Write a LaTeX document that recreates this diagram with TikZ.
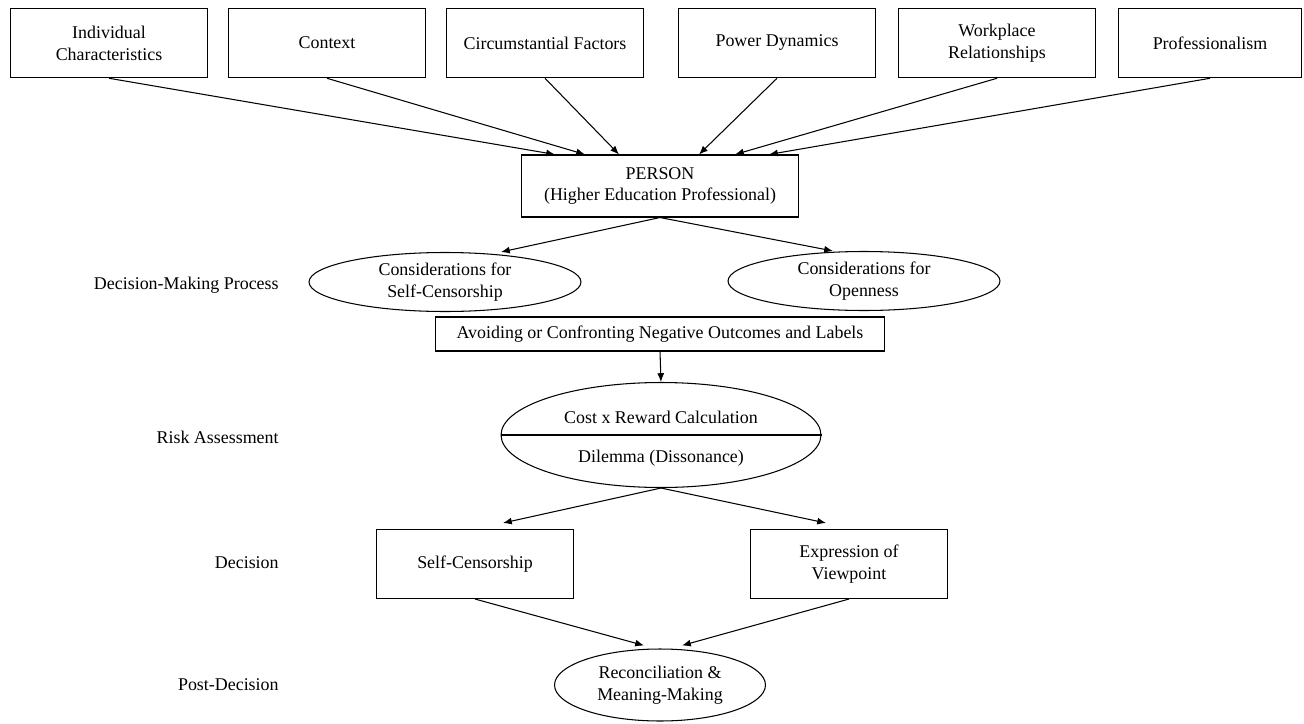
\documentclass[tikz,border=0pt]{standalone}
\usepackage{fontspec}
\setmainfont{Liberation Serif}
\usetikzlibrary{arrows.meta, positioning, calc, shapes.geometric}
\tikzset{
    factor/.style = {draw, rectangle, minimum width=3.94cm, minimum height=1.39cm, align=center},
    block/.style = {draw, rectangle, align=center},
    oval/.style = {draw, ellipse, align=center, inner sep=0pt},
    stage/.style = {anchor=east}
}

\begin{document}
\begin{tikzpicture}[x=0.02cm, y=-0.02cm, >={Latex[length=5pt,width=4pt]},
    font=\fontsize{10.2}{12.5}\selectfont, line width=0.6pt]
    \useasboundingbox (0,0) rectangle (1304,723);
    % Factores
    \node [factor] (indiv) at (109,43) {Individual\\Characteristics};
    \node [factor] (context) at (327,43) {Context};
    \node [factor] (circum) at (545,43) {Circumstantial Factors};
    \node [factor] (power) at (777,43) {Power Dynamics};
    \node [factor] (workplace) at (997,43) {Workplace\\Relationships};
    \node [factor, minimum width=3.66cm] (prof) at (1210,43) {Professionalism};
    % Persona
    \node [block, minimum width=5.54cm, minimum height=1.24cm] (person) at (660,186)
        {PERSON\\(Higher Education Professional)};
    % Proceso
    \node [oval, minimum width=5.44cm, minimum height=1.18cm] (selfcons) at (445,282)
        {Considerations for\\Self-Censorship};
    \node [oval, minimum width=5.44cm, minimum height=1.18cm] (openness) at (864,281)
        {Considerations for\\Openness};
    \node [block, minimum width=8.98cm, minimum height=0.68cm] (avoid) at (660,334)
        {Avoiding or Confronting Negative Outcomes and Labels};
    \node [oval, minimum width=6.4cm, minimum height=2.1cm] (risk) at (661,435) {};
    \draw (risk.west) -- (risk.east);
    \node (cost) at (661,417) {Cost x Reward Calculation};
    \node (dilemma) at (661,458) {Dilemma (Dissonance)};
    \node [block, minimum width=3.94cm, minimum height=1.38cm] (censor) at (475,564) {Self-Censorship};
    \node [block, minimum width=3.94cm, minimum height=1.38cm] (express) at (849,564) {Expression of\\Viewpoint};
    \node [oval, minimum width=4.22cm, minimum height=1.44cm] (recon) at (660,685)
        {Reconciliation \&\\Meaning-Making};
    % Etapas
    \node [stage] (dmp) at (285,285) {Decision-Making Process};
    \node [stage] (riskas) at (285,437) {Risk Assessment};
    \node [stage] (decision) at (285,563) {Decision};
    \node [stage] (post) at (285,685) {Post-Decision};
    % Flechas
    \draw [->] (indiv.south) -- ($(person.north)+(-105,0)$);
    \draw [->] (context.south) -- ($(person.north)+(-75,0)$);
    \draw [->] (circum.south) -- ($(person.north)+(-41,0)$);
    \draw [->] (power.south) -- ($(person.north)+(39,0)$);
    \draw [->] (workplace.south) -- ($(person.north)+(75,0)$);
    \draw [->] (prof.south) -- ($(person.north)+(109,0)$);
    \draw [->] (person.south) -- ($(selfcons.north)+(56,0)$);
    \draw [->] (person.south) -- ($(openness.north)+(-31,0)$);
    \draw [->] (avoid.south) -- (risk.north);
    \draw [->] (risk.south) -- ($(censor.north)+(28,-6)$);
    \draw [->] (risk.south) -- ($(express.north)+(-23,-6)$);
    \draw [->] (censor.south) -- ($(recon.north)+(-16,-3)$);
    \draw [->] (express.south) -- ($(recon.north)+(22,-3)$);
\end{tikzpicture}
\end{document}
